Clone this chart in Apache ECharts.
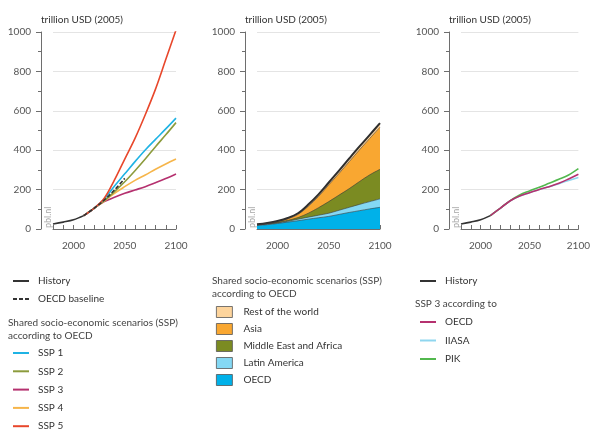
<!DOCTYPE html>
<html>
<head>
<meta charset="utf-8">
<script src="https://cdn.jsdelivr.net/npm/echarts@6/dist/echarts.min.js"></script>
<style>
html,body{margin:0;padding:0;background:#fff;}
#chart{width:593px;height:442px;}
</style>
</head>
<body>
<div id="chart"></div>
<script>
// ---- Data ----
const yTicks = [0, 200, 400, 600, 800, 1000];
const xTickLabels = [2000, 2050, 2100];

// Panel 1: history and SSP projections (trillion USD 2005)
const histYears = [1980, 1990, 2000, 2010];
const history = [25, 35, 47, 68];
const projYears = [2010, 2020, 2030, 2040, 2050, 2060, 2070, 2080, 2090, 2100];
const ssp1 = [68, 105, 152, 218, 280, 342, 401, 455, 508, 563];
const ssp2 = [68, 105, 144, 190, 240, 296, 355, 418, 478, 540];
const ssp3 = [68, 105, 139, 161, 181, 198, 215, 235, 256, 279];
const ssp4 = [68, 105, 142, 181, 215, 247, 274, 303, 330, 355];
const ssp5 = [68, 105, 156, 249, 355, 460, 580, 710, 860, 1010];
const baselineYears = [2010, 2020, 2030, 2040, 2050];
const oecdBaseline = [68, 105, 147, 198, 257];

// Panel 2: SSP by region according to OECD (stacked layers)
const regionYears = [1980, 1990, 2000, 2010, 2020, 2030, 2040, 2050, 2060, 2070, 2080, 2090, 2100];
const regOECD   = [18, 22, 28, 35, 42, 50, 57, 64, 74, 84, 93, 102, 110];
const regLatAm  = [2, 3, 3, 4, 8, 10, 13, 16, 21, 26, 32, 37, 43];
const regMEA    = [1, 2, 3, 5, 8, 20, 38, 59, 77, 95, 116, 136, 150];
const regAsia   = [1, 2, 4, 8, 16, 35, 57, 85, 110, 137, 161, 185, 214];
const regRest   = [2, 2, 3, 4, 6, 9, 11, 12, 14, 16, 17, 18, 20];

// Panel 3: SSP 3 according to different models
const ssp3OECD  = [68, 105, 142, 167, 184, 201, 215, 232, 254, 278];
const ssp3IIASA = [68, 105, 142, 167, 184, 200, 214, 230, 246, 261];
const ssp3PIK   = [68, 105, 143, 173, 193, 212, 232, 252, 274, 306];

// ---- Helpers ----
const FONT = 'Lato';
const FS = 10;
const pair = (xs, ys) => xs.map((x, i) => [x, ys[i]]);
const C = {
  hist: '#333333', ssp1: '#1fb3e4', ssp2: '#8c9b3c', ssp3: '#b5316f', ssp4: '#f6b54a', ssp5: '#e8472b',
  oecd: '#00b1e9', latam: '#84d8f4', mea: '#7b8b22', asia: '#f9a731', rest: '#fdd49c',
  iiasa: '#8fd6ef', pik: '#52b84e'
};

const gridLefts = [53, 257, 461];
const grids = gridLefts.map(l => ({ left: l, width: 123, top: 32, height: 197 }));

const xAxes = grids.map((g, i) => ({
  type: 'value', gridIndex: i, min: 1980, max: 2100, interval: 10,
  axisLine: { show: true, lineStyle: { color: '#6e6e6e', width: 1 } },
  axisTick: { show: true, inside: true, length: 4, lineStyle: { color: '#6e6e6e' } },
  splitLine: { show: false },
  axisLabel: {
    margin: 12, color: '#555', fontFamily: FONT, fontSize: FS,
    formatter: v => (xTickLabels.indexOf(v) >= 0 ? String(v) : '')
  }
}));

const yAxes = grids.map((g, i) => ({
  type: 'value', gridIndex: i, min: yTicks[0], max: yTicks[yTicks.length - 1], interval: 200,
  offset: 12,
  axisLine: { show: true, lineStyle: { color: '#6e6e6e', width: 1 } },
  axisTick: { show: true, length: 5, lineStyle: { color: '#6e6e6e' } },
  minorTick: { show: true, splitNumber: 2, length: 3, lineStyle: { color: '#6e6e6e' } },
  splitLine: { show: true, lineStyle: { color: '#e4e4e4', width: 1 } },
  axisLabel: { margin: 10, color: '#555', fontFamily: FONT, fontSize: FS, formatter: v => String(v) }
}));

function lineS(name, xs, ys, color, grid, extra) {
  return Object.assign({
    name: name, type: 'line', xAxisIndex: grid, yAxisIndex: grid,
    data: pair(xs, ys), symbol: 'none', smooth: 0.35,
    lineStyle: { color: color, width: 1.6 }, itemStyle: { color: color },
    emphasis: { disabled: true }, z: 3
  }, extra || {});
}

// cumulative tops of the stacked layers (bottom to top)
const layers = [regOECD, regLatAm, regMEA, regAsia, regRest];
const cumTops = [];
layers.forEach((arr, k) => {
  cumTops.push(arr.map((v, i) => v + (k ? cumTops[k - 1][i] : 0)));
});

function areaS(name, ys, color, top) {
  return {
    name: name, type: 'line', xAxisIndex: 1, yAxisIndex: 1,
    data: pair(regionYears, ys), symbol: 'none', smooth: 0.35,
    lineStyle: { color: top ? '#2e2e2e' : '#3a3a3a', width: top ? 2 : 0.6 },
    areaStyle: { color: color, opacity: 1 },
    itemStyle: { color: color },
    emphasis: { disabled: true }
  };
}

const series = [
  // panel 1
  lineS('SSP 3', projYears, ssp3, C.ssp3, 0),
  lineS('SSP 4', projYears, ssp4, C.ssp4, 0),
  lineS('SSP 2', projYears, ssp2, C.ssp2, 0),
  lineS('SSP 1', projYears, ssp1, C.ssp1, 0),
  lineS('SSP 5', projYears, ssp5, C.ssp5, 0),
  lineS('OECD baseline', baselineYears, oecdBaseline, C.hist, 0, { lineStyle: { color: C.hist, width: 1.6, type: [4, 2] }, z: 4 }),
  lineS('History', histYears, history, C.hist, 0, { z: 5 }),
  // panel 2 (painted top layer first so lower layers cover it)
  areaS('Rest of the world', cumTops[4], C.rest, true),
  areaS('Asia', cumTops[3], C.asia, false),
  areaS('Middle East and Africa', cumTops[2], C.mea, false),
  areaS('Latin America', cumTops[1], C.latam, false),
  areaS('OECD', cumTops[0], C.oecd, false),
  // panel 3
  lineS('IIASA', projYears, ssp3IIASA, C.iiasa, 2),
  lineS('PIK', projYears, ssp3PIK, C.pik, 2),
  lineS('OECD ', projYears, ssp3OECD, C.ssp3, 2),
  lineS('History ', histYears, history, C.hist, 2, { z: 5 })
];

const legText = { color: '#333', fontFamily: FONT, fontSize: FS, lineHeight: 12, padding: [0, 0, 0, 4] };
function legend(left, top, items, extra) {
  return Object.assign({
    left: left, top: top, orient: 'vertical', selectedMode: false,
    itemWidth: 16, itemHeight: 2, itemGap: 6, textStyle: legText, data: items
  }, extra || {});
}
const lineItem = (name, color) => ({ name: name, icon: 'rect', itemStyle: { color: color, borderWidth: 0 } });
const dashItem = (name, color) => ({
  name: name, icon: 'path://M0,0h4v2h-4z M6,0h4v2h-4z M12,0h4v2h-4z',
  itemStyle: { color: color, borderWidth: 0 }
});
const box = (name, color) => ({ name: name, icon: 'rect', itemStyle: { color: color, borderColor: '#555', borderWidth: 0.8 } });

const legends = [
  legend(8, 270, [lineItem('History', C.hist), dashItem('OECD baseline', C.hist)]),
  legend(8, 342, [lineItem('SSP 1', C.ssp1), lineItem('SSP 2', C.ssp2), lineItem('SSP 3', C.ssp3),
                  lineItem('SSP 4', C.ssp4), lineItem('SSP 5', C.ssp5)], { itemGap: 6.3 }),
  legend(211, 301, [
    box('Rest of the world', C.rest), box('Asia', C.asia), box('Middle East and Africa', C.mea),
    box('Latin America', C.latam), box('OECD', C.oecd)
  ], { itemHeight: 11, itemGap: 5, textStyle: Object.assign({}, legText, { padding: [0, 0, 0, 6] }) }),
  legend(415, 270, [lineItem('History ', C.hist)]),
  legend(415, 311, [lineItem('OECD ', C.ssp3), lineItem('IIASA', C.iiasa), lineItem('PIK', C.pik)], { itemGap: 6.5 })
];

const txt = (x, y, s, extra) => ({
  type: 'text', left: x, top: y, silent: true,
  style: Object.assign({ text: s, fill: '#333', font: FS + 'px ' + FONT }, extra || {})
});
const pbl = x => ({
  type: 'text', x: x, y: 228, rotation: Math.PI / 2, silent: true,
  style: { text: 'pbl.nl', fill: '#a8a8a8', font: '9px ' + FONT, textVerticalAlign: 'top' }
});

const graphics = [
  txt(41, 15, 'trillion USD (2005)'),
  txt(245, 15, 'trillion USD (2005)'),
  txt(449, 15, 'trillion USD (2005)'),
  txt(8, 318, 'Shared socio-economic scenarios (SSP)', { fill: '#444' }),
  txt(8, 331, 'according to OECD', { fill: '#444' }),
  txt(212, 276, 'Shared socio-economic scenarios (SSP)', { fill: '#444' }),
  txt(212, 289, 'according to OECD', { fill: '#444' }),
  txt(415, 299, 'SSP 3 according to', { fill: '#444' }),
  pbl(44), pbl(248), pbl(452)
];

const chart = echarts.init(document.getElementById('chart'), null, { renderer: 'canvas' });
chart.setOption({
  animation: false,
  backgroundColor: '#ffffff',
  grid: grids,
  xAxis: xAxes,
  yAxis: yAxes,
  legend: legends,
  graphic: graphics,
  series: series
});
</script>
</body>
</html>
